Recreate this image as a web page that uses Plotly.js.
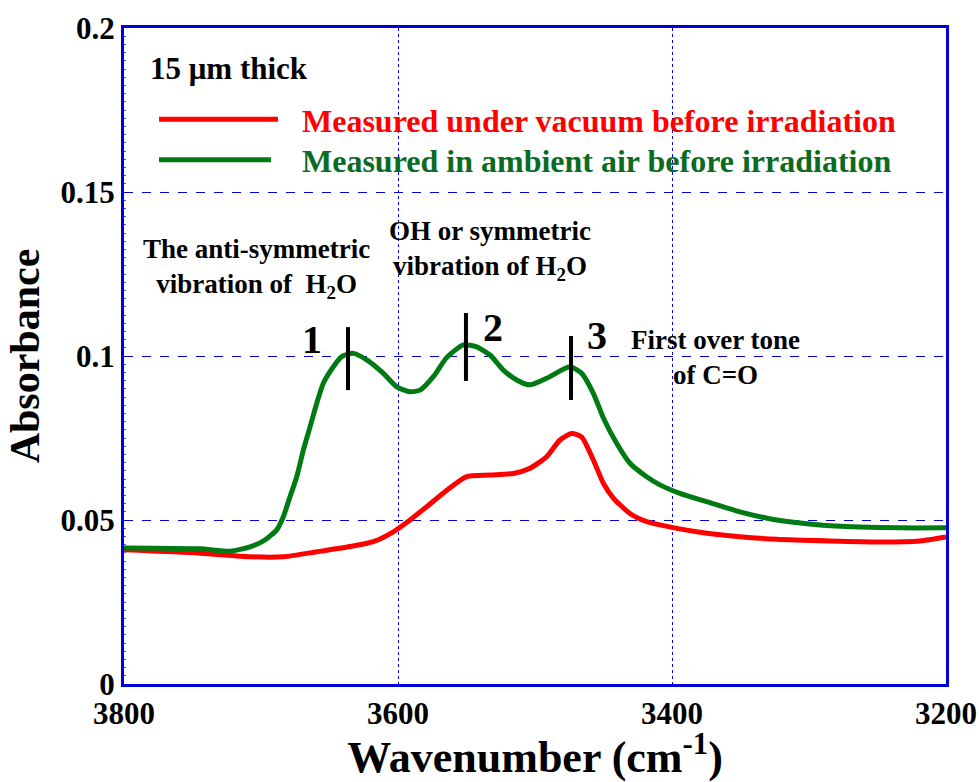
<!DOCTYPE html>
<html><head><meta charset="utf-8">
<script src="https://cdn.plot.ly/plotly-3.0.1.min.js"></script>
<style>body{margin:0;background:#fff}#chart{width:979px;height:782px}</style>
</head><body><div id="chart"></div>
<script>
// Wavenumber (cm^-1) and absorbance
const greenX = [3800,3744.5,3722.6,3708.0,3697.1,3688.5,3683.7,3678.8,3673.9,3669.1,3664.2,3659.3,3654.5,3647.2,3641.1,3632.6,3622.8,3610.7,3600.9,3591.2,3583.9,3574.2,3564.5,3552.3,3542.6,3532.8,3523.1,3513.4,3503.6,3491.5,3474.5,3465.9,3457.4,3450.1,3440.4,3430.7,3418.5,3408.8,3394.2,3374.7,3350.4,3323.6,3292,3262.8,3233.6,3200];
const greenY = [0.0415,0.0412,0.0405,0.0418,0.0439,0.0470,0.0510,0.0571,0.0632,0.0713,0.0784,0.0856,0.0917,0.0967,0.0998,0.1008,0.0988,0.0947,0.0906,0.0891,0.0896,0.0937,0.0995,0.1034,0.1028,0.1003,0.0957,0.0927,0.0912,0.0932,0.0967,0.0947,0.0886,0.0811,0.0734,0.0673,0.0632,0.0607,0.0581,0.0556,0.0525,0.0500,0.0485,0.0479,0.0476,0.0476];
const redX = [3800,3744.5,3708,3683.7,3659.3,3635.0,3618.0,3603.4,3591.2,3576.6,3562.0,3549.9,3532.8,3515.8,3503.6,3491.5,3481.8,3473.2,3465.9,3457.4,3450.1,3442.8,3430.7,3418.5,3408.8,3382.0,3350.4,3323.6,3284.7,3248.2,3219,3200];
const redY = [0.0409,0.0399,0.0388,0.0388,0.0403,0.0419,0.0434,0.0464,0.0500,0.0549,0.0598,0.0632,0.0637,0.0642,0.0658,0.0693,0.0744,0.0764,0.0753,0.0683,0.0612,0.0567,0.0520,0.0495,0.0485,0.0464,0.0449,0.0441,0.0436,0.0433,0.0436,0.0448];
// Peak markers: position, bottom, top
const peakX = [3636.5, 3550.4, 3473.7];
const peakLo = [0.0896, 0.0924, 0.0866];
const peakHi = [0.1088, 0.1131, 0.1061];
const peakLabels = ["1","2","3"];
const xTicks = [3800, 3600, 3400, 3200];
const yTicks = [0, 0.05, 0.1, 0.15, 0.2];
const yTickText = ["0","0.05","0.1","0.15","0.2"];
const seriesNames = ["Measured under vacuum before irradiation","Measured in ambient air before irradiation"];

const RED = "#ff0000", GREEN = "#007a12", GREEN_TXT = "#0b6b23";
const F = "Liberation Serif, Times New Roman, serif";

const traces = [
  {x: redX, y: redY, mode: "lines", name: seriesNames[0], line: {color: RED, width: 5, shape: "spline", smoothing: 0.6}, showlegend: false},
  {x: greenX, y: greenY, mode: "lines", name: seriesNames[1], line: {color: GREEN, width: 5, shape: "spline", smoothing: 0.6}, showlegend: false},
];
peakX.forEach((px, i) => traces.push({x: [px, px], y: [peakLo[i], peakHi[i]], mode: "lines", line: {color: "#000", width: 4}, showlegend: false, hoverinfo: "skip"}));

const ann = [
  {x: 0.029, y: 0.939, xref: "paper", yref: "paper", xanchor: "left", yanchor: "middle", text: "<b>15 μm thick</b>", showarrow: false, font: {family: F, size: 31, color: "#000"}},
  {x: 0.214, y: 0.858, xref: "paper", yref: "paper", xanchor: "left", yanchor: "middle", text: "<b>" + seriesNames[0] + "</b>", showarrow: false, font: {family: F, size: 32, color: RED}},
  {x: 0.214, y: 0.797, xref: "paper", yref: "paper", xanchor: "left", yanchor: "middle", text: "<b>" + seriesNames[1] + "</b>", showarrow: false, font: {family: F, size: 32, color: GREEN_TXT}},
  {x: 3703.6, y: 0.1268, text: "<b>The anti-symmetric<br>vibration of  H<sub>2</sub>O</b>", showarrow: false, align: "center", font: {family: F, size: 27, color: "#000"}},
  {x: 3532.8, y: 0.1323, text: "<b>OH or symmetric<br>vibration of H<sub>2</sub>O</b>", showarrow: false, align: "center", font: {family: F, size: 27, color: "#000"}},
  {x: 3367.9, y: 0.0994, text: "<b>First over tone<br>of C=O</b>", showarrow: false, align: "center", font: {family: F, size: 27, color: "#000"}},
];
const labOff = [[-36, 0.1049], [27, 0.1088], [26, 0.1064]];
peakLabels.forEach((t, i) => ann.push({x: peakX[i], y: labOff[i][1], xshift: labOff[i][0], text: "<b>" + t + "</b>", showarrow: false, font: {family: F, size: 40, color: "#000"}}));

const layout = {
  width: 979, height: 782,
  margin: {l: 124, r: 33, t: 28, b: 98},
  paper_bgcolor: "#fff", plot_bgcolor: "#fff",
  showlegend: false,
  xaxis: {
    range: [3800, 3200], tickvals: xTicks, ticktext: xTicks.map(String),
    showline: true, linecolor: "#0000dd", linewidth: 3, mirror: true,
    showgrid: true, gridcolor: "#0000dd", gridwidth: 1, griddash: "dot",
    ticks: "", zeroline: false,
    tickfont: {family: F, size: 31, color: "#000", weight: "bold"},
    title: {text: "<b>Wavenumber (cm<sup>-1</sup>)</b>", font: {family: F, size: 44, color: "#000"}, standoff: 10},
  },
  yaxis: {
    range: [0, 0.2], tickvals: yTicks, ticktext: yTickText,
    showline: true, linecolor: "#0000dd", linewidth: 3, mirror: true,
    showgrid: true, gridcolor: "#0000dd", gridwidth: 1, griddash: "dash",
    ticks: "inside", ticklen: 4, tickcolor: "#0000dd", zeroline: false,
    minor: {dtick: 0.0025, ticks: "inside", ticklen: 2, tickcolor: "#5555ee", showgrid: false},
    tickfont: {family: F, size: 31, color: "#000", weight: "bold"},
    title: {text: "<b>Absorbance</b>", font: {family: F, size: 42, color: "#000"}, standoff: 8},
  },
  shapes: [
    {type: "line", xref: "paper", yref: "paper", x0: 0.0426, x1: 0.1873, y0: 0.861, y1: 0.861, line: {color: RED, width: 5}},
    {type: "line", xref: "paper", yref: "paper", x0: 0.0426, x1: 0.1788, y0: 0.799, y1: 0.799, line: {color: GREEN, width: 5}},
  ],
  annotations: ann,
};
Plotly.newPlot("chart", traces, layout, {displayModeBar: false, staticPlot: true});
</script></body></html>
